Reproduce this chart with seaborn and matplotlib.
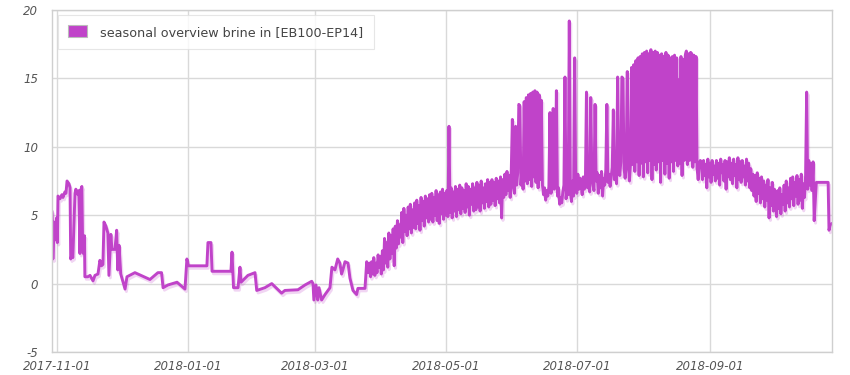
import matplotlib
matplotlib.use('Agg')

import numpy as np
import pandas as pd
import matplotlib.pyplot as plt
import matplotlib.dates as mdates
import matplotlib.patheffects as pe
import seaborn as sns

START = pd.Timestamp('2017-11-01')
LABEL = 'seasonal overview brine in [EB100-EP14]'
XTICKS = ['2017-11-01', '2018-01-01', '2018-03-01', '2018-05-01', '2018-07-01', '2018-09-01']
YTICKS = [-5, 0, 5, 10, 15, 20]

# winter: sparse readings (days since 2017-11-01, deg C)
winter_days = [-2.3, -2.0, -1.9, -1.4, -0.7, -0.2, 0.2, 0.5, 1.4, 2.3, 2.8, 3.7, 4.2, 4.7,
               5.6, 6.1, 6.4, 7.0, 7.4, 8.4, 8.8, 9.8, 10.2, 10.7, 11.2, 11.6, 11.9, 12.3,
               12.8, 13.0, 14.4, 15.4, 16.8, 17.7, 19.1, 20.0, 20.7, 21.4, 21.9, 22.8, 23.7,
               24.2, 25.1, 25.6, 27.0, 27.8, 28.3, 28.9, 29.7, 31.7, 32.6, 36.3, 43.3, 47.0,
               48.7, 49.4, 51.7, 55.9, 59.6, 60.5, 61.2, 69.8, 70.3, 71.7, 72.2, 81.0, 81.5,
               82.2, 84.3, 85.2, 85.7, 88.9, 92.2, 93.0, 96.8, 100.0, 104.6, 106.1, 112.2,
               115.5, 118.6, 119.2, 119.6, 120.6, 121.4, 122.0, 123.2, 124.8, 127.1, 128.0,
               129.4, 130.7, 131.7, 132.5, 133.1, 134.1, 135.5, 136.4, 137.8, 139.5, 140.1,
               143.4, 144.2, 144.8, 145.5]
winter_temp = [5.3, 4.0, 1.8, 4.5, 3.2, 4.8, 3.0, 6.4, 6.2, 6.5, 6.3, 6.7, 6.6, 7.5,
               7.3, 7.0, 1.8, 2.1, 1.9, 6.6, 6.9, 6.5, 6.8, 2.2, 6.9, 7.1, 3.5, 2.2,
               3.5, 0.5, 0.5, 0.6, 0.2, 0.6, 0.7, 1.7, 1.3, 1.4, 4.5, 4.2, 3.7,
               0.6, 3.6, 2.5, 2.5, 3.9, 1.0, 2.8, 0.7, -0.4, 0.5, 0.8, 0.3, 0.8,
               0.8, -0.3, -0.1, 0.1, -0.4, 1.8, 1.3, 1.3, 3.0, 3.0, 0.9, 0.9, 2.3,
               -0.3, -0.3, 1.2, 0.1, 0.6, 0.8, -0.5, -0.3, 0.0, -0.7, -0.5, -0.45,
               -0.1, 0.17, 0.0, -1.2, -0.1, -1.2, -0.3, -1.2, -0.8, -0.3, 1.2,
               1.0, 1.8, 1.5, 0.7, 1.0, 1.6, 1.5, 0.4, -0.5, -0.8, -0.35,
               -0.35, 1.6, 0.8, 1.5]

# spring / summer: one reading every 12 hours from day 146 (2018-03-27)
summer_start = 146.0
summer_temp = [
    0.5, 1.6, 0.7, 1.9, 0.6, 1.5, 0.8, 2.1, 1.2, 2.0, 0.7, 2.4, 1.0, 3.3,
    1.5, 3.0, 1.2, 3.7, 1.8, 3.5, 2.2, 4.0, 1.3, 4.2, 2.6, 4.6, 2.9, 4.3,
    3.4, 5.2, 3.0, 5.5, 3.8, 5.0, 3.5, 5.6, 4.0, 5.8, 3.7, 5.4, 4.1, 5.9,
    4.0, 6.1, 4.4, 5.7, 3.9, 6.3, 4.6, 6.0, 4.2, 6.4, 4.8, 6.2, 4.5, 6.5,
    4.7, 6.6, 4.5, 6.3, 5.0, 6.8, 4.6, 6.5, 4.4, 6.7, 5.1, 6.9, 4.7, 6.6,
    5.0, 6.8, 4.9, 11.5, 5.2, 7.0, 4.8, 6.7, 5.3, 7.1, 4.9, 6.9, 5.4, 7.2,
    5.1, 7.0, 5.5, 6.8, 5.2, 7.3, 5.6, 7.1, 5.0, 6.9, 5.8, 7.3, 5.3, 7.0,
    5.4, 7.4, 5.6, 7.2, 5.3, 7.5, 5.9, 7.0, 5.5, 7.3, 6.0, 7.6, 5.6, 7.4,
    5.8, 7.6, 6.1, 7.4, 5.7, 7.7, 6.2, 7.5, 5.9, 7.8, 4.8, 7.6, 6.3, 8.0,
    6.5, 8.2, 6.8, 7.9, 6.3, 8.3, 12.0, 7.0, 6.6, 11.5, 7.2, 8.1, 13.1, 13.0,
    7.2, 8.4, 6.9, 13.3, 7.5, 13.6, 7.3, 13.8, 7.6, 13.9, 7.1, 14.0, 7.8, 14.1,
    7.4, 14.0, 7.0, 13.8, 7.6, 13.4, 7.2, 6.5, 7.0, 6.1, 6.8, 6.4, 7.1, 12.5,
    6.6, 7.3, 12.8, 6.9, 7.4, 14.1, 6.4, 7.0, 5.8, 6.3, 5.9, 6.7, 7.2, 15.1,
    6.2, 7.0, 6.5, 19.2, 6.8, 6.0, 7.5, 6.4, 16.5, 7.1, 6.6, 8.0, 6.9, 7.7,
    7.3, 6.5, 7.8, 6.9, 7.4, 14.0, 7.0, 7.6, 6.7, 13.6, 7.9, 7.2, 6.8, 13.1,
    7.5, 8.1, 6.6, 7.9, 7.0, 8.2, 6.4, 7.7, 7.2, 8.3, 13.1, 7.4, 8.0, 7.1,
    7.8, 8.5, 12.7, 7.6, 8.8, 7.3, 15.1, 8.6, 7.9, 8.9, 15.1, 15.0, 8.4, 7.7,
    8.6, 15.5, 8.9, 7.5, 8.8, 15.8, 8.7, 16.0, 8.2, 16.3, 8.9, 16.5, 7.9, 16.6,
    8.8, 16.8, 7.8, 16.9, 8.9, 17.0, 8.1, 16.8, 9.0, 17.1, 7.6, 16.9, 8.7, 17.0,
    8.3, 16.9, 8.9, 16.7, 7.4, 16.8, 9.0, 16.6, 8.0, 16.9, 8.8, 16.7, 7.7, 16.5,
    8.9, 16.6, 8.2, 16.7, 9.0, 16.5, 8.6, 14.9, 8.8, 16.6, 7.9, 16.4, 9.0, 16.7,
    17.0, 8.7, 16.8, 9.0, 16.9, 16.8, 8.5, 16.7, 8.9, 16.6, 8.4, 7.6, 8.8, 9.0,
    8.9, 7.6, 9.0, 7.9, 8.7, 7.0, 9.1, 7.8, 8.8, 7.4, 9.0, 8.0, 8.6, 7.5,
    9.0, 7.7, 8.8, 7.2, 9.1, 8.1, 8.7, 7.5, 9.0, 6.9, 8.9, 7.8, 9.2, 7.6,
    8.8, 7.3, 9.1, 7.9, 8.7, 7.0, 9.2, 7.6, 8.9, 7.4, 9.0, 7.8, 8.6, 7.2,
    9.1, 7.5, 8.8, 7.0, 8.4, 6.8, 8.0, 6.4, 7.9, 6.0, 8.1, 6.6, 7.7, 5.9,
    7.8, 6.2, 7.5, 5.6, 7.2, 6.1, 7.6, 4.8, 7.0, 5.7, 7.4, 5.3, 6.9, 6.0,
    4.9, 6.8, 5.5, 7.0, 5.1, 6.5, 5.8, 7.2, 5.3, 7.5, 5.9, 7.0, 5.6, 7.7,
    6.2, 7.8, 5.7, 7.4, 6.4, 7.9, 5.8, 7.6, 6.1, 8.0, 5.5, 7.3, 6.3, 7.9,
    14.0, 6.9, 9.0, 7.2, 8.8, 6.8, 8.9, 4.6,
]

# autumn tail: sparse again
tail_days = [353.5, 359.0, 359.4, 360.0, 360.8]
tail_temp = [7.4, 7.4, 3.9, 4.3, 4.4]

summer_days = [summer_start + 0.5 * i for i in range(len(summer_temp))]
days = winter_days + summer_days + tail_days
temp = winter_temp + summer_temp + tail_temp

df = pd.DataFrame({'time': START + pd.to_timedelta(days, unit='D'), 'temp': temp})

sns.set_style('white')
plt.rcParams['font.family'] = ['DejaVu Sans']

fig = plt.figure(figsize=(8.5, 3.75), dpi=100)
ax = fig.add_axes([52 / 850, 1 - 352 / 375, 780 / 850, 342 / 375])

color = '#c043c9'
sns.lineplot(data=df, x='time', y='temp', ax=ax, color=color, lw=2.1,
             estimator=None, sort=False, legend=False,
             path_effects=[pe.SimpleLineShadow(offset=(1, -1.8), shadow_color=color, alpha=0.22),
                           pe.Normal()])

ax.set_xlim(df['time'].min(), df['time'].max())
ax.set_ylim(-5, 20)
tick_font = dict(fontstyle='oblique', fontsize=8.5, color='#555555')
ax.set_xticks(pd.to_datetime(XTICKS), XTICKS, **tick_font)
ax.set_yticks(YTICKS, [str(v) for v in YTICKS], **tick_font)
ax.set_xlabel('')
ax.set_ylabel('')

ax.grid(True, color='#d9d9d9', lw=1)
for s in ax.spines.values():
    s.set_color('#cfcfcf')
    s.set_linewidth(1)
ax.tick_params(axis='both', length=0)
ax.tick_params(axis='y', pad=10)
ax.tick_params(axis='x', pad=6)

handle = matplotlib.patches.Patch(facecolor=color, edgecolor='#bbbbbb', lw=0.8)
leg = ax.legend([handle], [LABEL], loc='upper left', bbox_to_anchor=(6 / 780, 1 - 5 / 342),
                frameon=True, fancybox=False, prop={'size': 9.2},
                handlelength=1.5, handleheight=1.1, borderpad=0.8, handletextpad=1.0,
                borderaxespad=0)
leg.get_frame().set_edgecolor('#e0e0e0')
leg.get_frame().set_linewidth(0.8)
for t in leg.get_texts():
    t.set_color('#444444')

fig.savefig('out.png', dpi=100)
